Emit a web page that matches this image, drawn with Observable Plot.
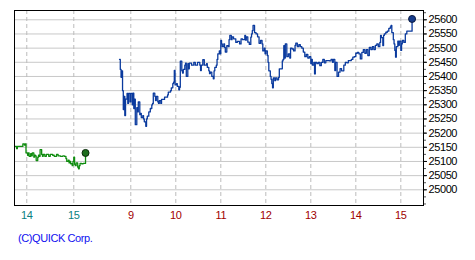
<!DOCTYPE html>
<html><head><meta charset="utf-8">
<script src="https://cdn.jsdelivr.net/npm/d3@7"></script>
<script src="https://cdn.jsdelivr.net/npm/@observablehq/plot@0.6"></script>
<style>
body{margin:0;background:#fff}
.chart text{letter-spacing:-0.4px}
</style>
</head><body><div id="chart"></div>
<script>
// previous day session (time, price)
const prevSession = [
["13:44",25153],["13:47",25145],["13:48",25153],["13:55",25162],["13:57",25158],["13:58",25162],
["13:59",25130],["14:01",25122],["14:02",25130],["14:03",25118],["14:05",25128],["14:06",25120],
["14:07",25130],["14:09",25115],["14:10",25122],["14:11",25120],["14:12",25103],["14:14",25115],
["14:15",25122],["14:16",25118],["14:17",25142],["14:19",25125],["14:20",25118],["14:21",25125],
["14:23",25118],["14:25",25125],["14:28",25118],["14:30",25125],["14:33",25122],["14:35",25118],
["14:38",25125],["14:40",25120],["14:43",25118],["14:46",25120],["14:48",25118],["14:50",25110],
["14:51",25100],["14:53",25105],["14:54",25095],["14:55",25100],["14:56",25092],["14:58",25085],
["14:59",25100],["15:00",25115],["15:01",25090],["15:02",25085],["15:03",25095],["15:05",25080],
["15:06",25074],["15:07",25085],["15:08",25093],["15:10",25092],["15:12",25093],["15:15",25130]
];
// today session (time, price)
const todaySession = [
["8:45",25460],["8:46",25425],["8:47",25397],["8:48",25420],["8:49",25350],["8:50",25283],
["8:51",25330],["8:52",25262],["8:53",25320],["8:55",25340],["8:56",25305],["8:57",25340],
["8:59",25310],["9:00",25340],["9:02",25300],["9:03",25341],["9:04",25287],["9:05",25320],
["9:06",25230],["9:08",25290],["9:09",25275],["9:10",25310],["9:12",25265],["9:13",25270],
["9:14",25255],["9:16",25262],["9:17",25250],["9:18",25240],["9:20",25224],["9:21",25250],
["9:22",25260],["9:24",25275],["9:26",25287],["9:28",25300],["9:29",25305],["9:30",25341],
["9:32",25330],["9:33",25315],["9:34",25330],["9:36",25310],["9:37",25305],["9:38",25315],
["9:40",25305],["9:41",25319],["9:44",25319],["9:45",25327],["9:48",25327],["9:49",25335],
["9:50",25345],["9:53",25350],["9:54",25360],["9:56",25375],["9:57",25380],["9:58",25421],
["9:59",25370],["10:01",25375],["10:02",25365],["10:04",25353],["10:05",25362],["10:06",25454],
["10:08",25420],["10:09",25412],["10:10",25425],["10:12",25440],["10:13",25447],["10:14",25400],
["10:16",25445],["10:17",25427],["10:18",25447],["10:21",25440],["10:24",25450],["10:26",25440],
["10:29",25450],["10:32",25440],["10:33",25421],["10:34",25440],["10:36",25459],["10:38",25440],
["10:41",25445],["10:42",25432],["10:44",25420],["10:45",25410],["10:46",25415],["10:48",25400],
["10:50",25392],["10:51",25420],["10:52",25432],["10:54",25440],["10:55",25460],["10:56",25480],
["10:58",25490],["10:59",25480],["11:00",25527],["11:01",25515],["11:02",25505],["11:04",25515],
["11:05",25503],["11:06",25486],["11:08",25509],["11:10",25505],["11:11",25530],["11:12",25545],
["11:14",25530],["11:15",25540],["11:17",25533],["11:20",25520],["11:22",25524],["11:25",25515],
["11:27",25533],["11:29",25530],["11:32",25545],["11:33",25528],["11:34",25540],["11:36",25521],
["11:38",25513],["11:40",25539],["11:41",25550],["11:42",25562],["11:43",25580],["11:45",25555],
["11:47",25550],["11:49",25540],["11:51",25517],["11:53",25527],["11:55",25515],["11:56",25490],
["11:58",25500],["11:59",25480],["12:00",25490],["12:02",25474],["12:03",25450],["12:04",25420],
["12:06",25400],["12:07",25390],["12:08",25375],["12:09",25360],["12:10",25395],["12:12",25385],
["12:13",25395],["12:15",25388],["12:17",25397],["12:18",25427],["12:20",25427],["12:22",25455],
["12:23",25460],["12:24",25509],["12:25",25465],["12:26",25515],["12:28",25470],["12:30",25480],
["12:32",25465],["12:33",25500],["12:35",25497],["12:37",25490],["12:39",25510],["12:40",25518],
["12:42",25505],["12:44",25512],["12:46",25505],["12:48",25500],["12:50",25486],["12:52",25470],
["12:54",25478],["12:56",25465],["12:58",25470],["13:00",25445],["13:01",25460],["13:02",25440],
["13:04",25450],["13:05",25409],["13:06",25450],["13:08",25445],["13:10",25450],["13:12",25438],
["13:14",25450],["13:16",25460],["13:18",25448],["13:20",25456],["13:22",25456],["13:25",25455],
["13:27",25460],["13:29",25450],["13:30",25460],["13:32",25421],["13:33",25450],["13:35",25400],
["13:37",25415],["13:39",25428],["13:41",25420],["13:44",25440],["13:46",25450],["13:48",25448],
["13:50",25456],["13:52",25456],["13:54",25460],["13:56",25468],["13:58",25470],["14:00",25482],
["14:02",25485],["14:04",25480],["14:06",25462],["14:08",25485],["14:10",25495],["14:12",25482],
["14:14",25495],["14:16",25474],["14:18",25503],["14:20",25495],["14:22",25505],["14:24",25495],
["14:26",25510],["14:28",25515],["14:30",25505],["14:32",25520],["14:33",25545],["14:34",25537],
["14:36",25509],["14:37",25545],["14:38",25550],["14:40",25556],["14:42",25560],["14:44",25570],
["14:46",25575],["14:47",25580],["14:48",25555],["14:50",25530],["14:51",25515],["14:52",25492],
["14:53",25468],["14:54",25505],["14:56",25525],["14:57",25510],["14:58",25525],["15:00",25492],
["15:01",25515],["15:02",25527],["15:04",25520],["15:06",25550],["15:08",25560],["15:10",25560],
["15:13",25560],["15:15",25603]
];
const prevHourTicks = [14, 15];
const todayHourTicks = [9, 10, 11, 12, 13, 14, 15];
const yTicks = d3.range(25000, 25601, 50);
const yMinorTicks = d3.range(24950, 25626, 25);
const caption = "(C)QUICK Corp.";

const toH = s => { const [h, m] = s.split(":").map(Number); return h + m / 60; };
// session axis: today's hours on a continuous scale, previous day placed before 8:45
const prevU = h => -1.2667 + (h - 15) * 47 / 45;
const todayU = h => h - 9;

const prev = prevSession.map(([t, v]) => ({u: prevU(toH(t)), v}));
const today = todaySession.map(([t, v]) => ({u: todayU(toH(t)), v}));
const prevTicks = prevHourTicks.map(h => ({u: prevU(h), label: String(h)}));
const todayTicks = todayHourTicks.map(h => ({u: todayU(h), label: String(h)}));
const allTicks = prevTicks.concat(todayTicks);

const green = "#0f8c0f", blue = "#0a3a9e";
const chart = Plot.plot({
  width: 475, height: 260,
  marginLeft: 14, marginRight: 52, marginTop: 10, marginBottom: 55,
  className: "chart",
  x: {domain: [-2.584, 6.504], axis: null},
  y: {domain: [24944.6, 25632.8], axis: null},
  style: {fontFamily: "'Liberation Sans', Arial, sans-serif", background: "white", overflow: "visible"},
  marks: [
    Plot.ruleY(yTicks, {stroke: "#c8c8c8", strokeWidth: 1}),
    Plot.ruleX(allTicks, {x: "u", stroke: "#bdbdbd", strokeDasharray: "4,3"}),
    Plot.line(prev, {x: "u", y: "v", curve: "step-after", stroke: green, strokeWidth: 1.3, clip: true}),
    Plot.line(today, {x: "u", y: "v", curve: "step-after", stroke: blue, strokeWidth: 1.3, clip: true}),
    Plot.dot([prev[prev.length - 1]], {x: "u", y: "v", r: 3.5, fill: "#1e6e1e", stroke: "#0a2a0a", strokeWidth: 1}),
    Plot.dot([today[today.length - 1]], {x: "u", y: "v", r: 3.5, fill: "#163c8c", stroke: "#0a1a40", strokeWidth: 1}),
    Plot.frame({stroke: "black", strokeWidth: 1}),
    Plot.axisY(yMinorTicks, {anchor: "right", label: null, tickSize: 2, tickFormat: () => "", stroke: "#555"}),
    Plot.axisY(yTicks, {anchor: "right", label: null, tickSize: 3, tickPadding: 2, fontSize: 11, fill: "black", tickFormat: d => String(d)}),
    Plot.text(prevTicks, {x: "u", text: "label", frameAnchor: "bottom", dy: 13, fontSize: 11, fill: "#0a7f7f"}),
    Plot.text(todayTicks, {x: "u", text: "label", frameAnchor: "bottom", dy: 13, fontSize: 11, fill: "#a00000"}),
    Plot.text([caption], {frameAnchor: "bottom-left", textAnchor: "start", dx: 3.5, dy: 36, fontSize: 11, fill: "#1010f0"})
  ]
});
document.getElementById("chart").append(chart);
</script>
</body></html>
